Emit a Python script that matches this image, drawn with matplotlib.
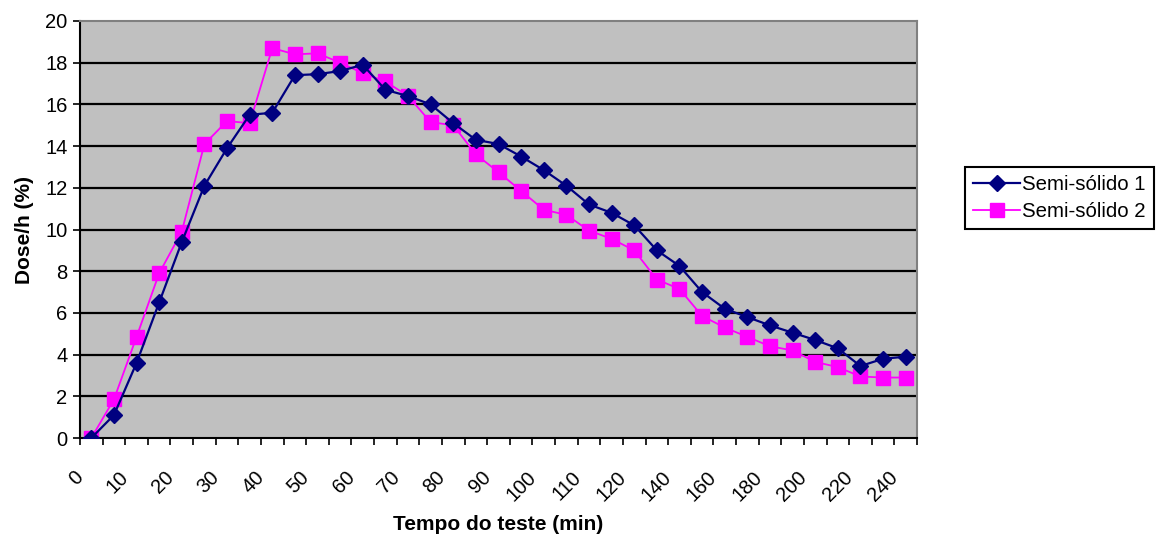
import matplotlib.pyplot as plt
import matplotlib.transforms as mtransforms
import numpy as np

plt.rcParams['font.family'] = ['Liberation Sans', 'DejaVu Sans']

# tempo do teste (min): 5-min steps up to 120, then 10-min steps
tempo = list(range(0, 125, 5)) + list(range(130, 250, 10))

semi_1 = [0, 1.1, 3.6, 6.5, 9.4, 12.1, 13.9, 15.5, 15.6, 17.4, 17.45, 17.6, 17.9,
          16.7, 16.4, 16.0, 15.1, 14.3, 14.1, 13.5, 12.85, 12.1, 11.2, 10.8, 10.2,
          9.0, 8.25, 7.0, 6.2, 5.8, 5.4, 5.05, 4.7, 4.3, 3.45, 3.8, 3.9]
semi_2 = [0, 1.85, 4.85, 7.9, 9.9, 14.1, 15.2, 15.1, 18.7, 18.4, 18.45, 18.0, 17.5,
          17.1, 16.4, 15.15, 15.0, 13.6, 12.75, 11.85, 10.95, 10.7, 9.95, 9.55, 9.0,
          7.6, 7.15, 5.85, 5.3, 4.85, 4.4, 4.2, 3.65, 3.4, 2.95, 2.9, 2.9]

x = np.arange(len(tempo))

fig = plt.figure(figsize=(11.57, 5.44), dpi=100)
ax = fig.add_axes([80 / 1157, 1 - 438 / 544, 837 / 1157, 417 / 544])
ax.set_facecolor('#C0C0C0')

for yv in range(2, 20, 2):
    ax.axhline(yv, color='black', lw=1.6, zorder=1)

ax.plot(x, semi_1, color='#000080', lw=1.6, marker='D', ms=8.5,
        label='Semi-sólido 1', zorder=3)
ax.plot(x, semi_2, color='#FF00FF', lw=1.3, marker='s', ms=10.5,
        label='Semi-sólido 2', zorder=2)

ax.set_xlim(-0.5, len(tempo) - 0.5)
ax.set_ylim(0, 20)
ax.set_yticks(range(0, 21, 2))
ax.tick_params(axis='y', direction='out', length=5, width=1.2, labelsize=14.5, pad=4)

ax.set_xticks(x[::2])
ax.set_xticklabels([str(t) for t in tempo[::2]], rotation=45, ha='right',
                   va='center', rotation_mode='anchor', fontsize=14.5)
ax.set_xticks(np.arange(-0.5, len(tempo), 1), minor=True)
ax.tick_params(axis='x', which='major', length=0, pad=26)
ax.tick_params(axis='x', which='minor', direction='out', length=5, width=1.2)
offset = mtransforms.ScaledTranslation(-11 / 100, 0, fig.dpi_scale_trans)
for lab in ax.get_xticklabels():
    lab.set_transform(lab.get_transform() + offset)

for side in ['top', 'right']:
    ax.spines[side].set_color('#808080')
    ax.spines[side].set_linewidth(1.5)
for side in ['left', 'bottom']:
    ax.spines[side].set_color('black')
    ax.spines[side].set_linewidth(1.5)

ax.set_xlabel('Tempo do teste (min)', fontsize=15, fontweight='bold', va='center')
ax.xaxis.set_label_coords((498 - 80) / 837, (438 - 525) / 417)
ax.set_ylabel('Dose/h (%)', fontsize=15, fontweight='bold', labelpad=8)

leg = ax.legend(loc='center left', bbox_to_anchor=(965 / 1157, 1 - 198 / 544),
                bbox_transform=fig.transFigure, fontsize=14.7, fancybox=False,
                edgecolor='black', framealpha=1, borderpad=0.4, handlelength=2.3,
                handletextpad=0.1, labelspacing=0.4, borderaxespad=0)
leg.get_frame().set_linewidth(1.5)

fig.savefig('out.png', dpi=100)
